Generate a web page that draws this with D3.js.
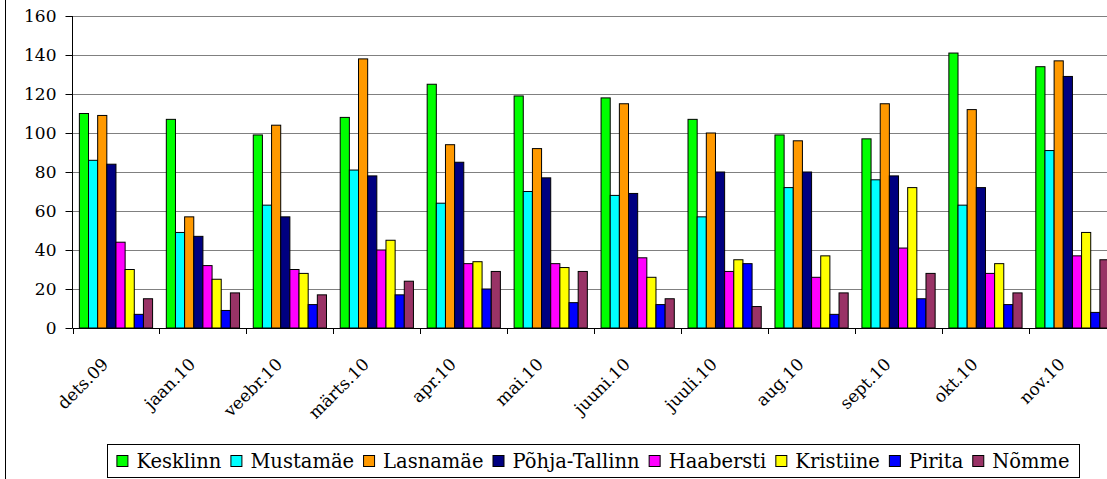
<!DOCTYPE html>
<html>
<head>
<meta charset="utf-8">
<script src="https://cdn.jsdelivr.net/npm/d3@7"></script>
<style>
  body { margin: 0; background: #fff; }
  svg { display: block; }
  text { font-family: "DejaVu Serif", serif; fill: #000; }
</style>
</head>
<body>
<div id="chart"></div>
<script>
var months = ["dets.09", "jaan.10", "veebr.10", "märts.10", "apr.10", "mai.10",
              "juuni.10", "juuli.10", "aug.10", "sept.10", "okt.10", "nov.10"];

var districts = ["Kesklinn", "Mustamäe", "Lasnamäe", "Põhja-Tallinn",
                 "Haabersti", "Kristiine", "Pirita", "Nõmme"];

var colors = ["#00ff00", "#00ffff", "#ff9900", "#000080",
              "#ff00ff", "#ffff00", "#0000ff", "#993366"];

// one array per district, values per month
var kesklinn     = [110, 107, 99, 108, 125, 119, 118, 107, 99, 97, 141, 134];
var mustamae     = [86, 49, 63, 81, 64, 70, 68, 57, 72, 76, 63, 91];
var lasnamae     = [109, 57, 104, 138, 94, 92, 115, 100, 96, 115, 112, 137];
var pohjaTallinn = [84, 47, 57, 78, 85, 77, 69, 80, 80, 78, 72, 129];
var haabersti    = [44, 32, 30, 40, 33, 33, 36, 29, 26, 41, 28, 37];
var kristiine    = [30, 25, 28, 45, 34, 31, 26, 35, 37, 72, 33, 49];
var pirita       = [7, 9, 12, 17, 20, 13, 12, 33, 7, 15, 12, 8];
var nomme        = [15, 18, 17, 24, 29, 29, 15, 11, 18, 28, 18, 35];

var series = [kesklinn, mustamae, lasnamae, pohjaTallinn, haabersti, kristiine, pirita, nomme];

var yTicks = [0, 20, 40, 60, 80, 100, 120, 140, 160];

var W = 1107, H = 479;
var plotLeft = 72.5, plotTop = 16, plotBottom = 328;
var catW = 86.95;

var svg = d3.select("#chart").append("svg")
    .attr("width", W)
    .attr("height", H);

var x0 = d3.scaleBand()
    .domain(months)
    .range([plotLeft, plotLeft + catW * months.length]);

// excel gap width 150% -> 0.75 bar on each side
var x1 = d3.scaleBand()
    .domain(d3.range(districts.length))
    .range([0, x0.bandwidth()])
    .paddingOuter(0.75);

var y = d3.scaleLinear()
    .domain([0, 160])
    .range([plotBottom, plotTop]);

// outer frame (left edge only visible)
svg.append("line")
    .attr("x1", 5.5).attr("x2", 5.5)
    .attr("y1", 0).attr("y2", H)
    .attr("stroke", "#000");

// gridlines
svg.append("g")
  .selectAll("line")
  .data(yTicks.slice(1))
  .enter().append("line")
    .attr("x1", plotLeft).attr("x2", W)
    .attr("y1", function(d) { return Math.round(y(d)) + 0.5; })
    .attr("y2", function(d) { return Math.round(y(d)) + 0.5; })
    .attr("stroke", "#808080");

// bars
var groups = svg.append("g")
  .selectAll("g")
  .data(months)
  .enter().append("g")
    .attr("transform", function(d) { return "translate(" + x0(d) + ",0)"; });

groups.selectAll("rect")
  .data(function(m, i) { return series.map(function(s, k) { return {k: k, v: s[i]}; }); })
  .enter().append("rect")
    .attr("x", function(d) { return x1(d.k); })
    .attr("width", x1.bandwidth())
    .attr("y", function(d) { return y(d.v); })
    .attr("height", function(d) { return plotBottom - y(d.v); })
    .attr("fill", function(d) { return colors[d.k]; })
    .attr("stroke", "#000")
    .attr("stroke-width", 1);

// y axis
var yAxis = d3.axisLeft(y)
    .tickValues(yTicks)
    .tickSize(7)
    .tickPadding(9);

var gy = svg.append("g")
    .attr("transform", "translate(" + plotLeft + ",0)")
    .call(yAxis);
gy.select(".domain").attr("stroke", "#000").attr("d", "M0," + plotTop + "V" + plotBottom);
gy.selectAll(".tick line").attr("stroke", "#000");
gy.selectAll("text")
    .style("font-family", "DejaVu Serif")
    .style("font-size", "17px");

// x axis
svg.append("line")
    .attr("x1", plotLeft).attr("x2", W)
    .attr("y1", plotBottom + 0.5).attr("y2", plotBottom + 0.5)
    .attr("stroke", "#000");

svg.append("g")
  .selectAll("line")
  .data(d3.range(months.length + 1))
  .enter().append("line")
    .attr("x1", function(i) { return Math.round(plotLeft + i * catW) + 0.5; })
    .attr("x2", function(i) { return Math.round(plotLeft + i * catW) + 0.5; })
    .attr("y1", plotBottom).attr("y2", plotBottom + 6)
    .attr("stroke", "#000");

svg.append("g")
  .selectAll("text")
  .data(months)
  .enter().append("text")
    .attr("transform", function(d) {
      return "translate(" + (x0(d) + x0.bandwidth() / 2 - 15) + "," + (plotBottom + 29) + ") rotate(-45)";
    })
    .attr("text-anchor", "end")
    .attr("dy", "0.7em")
    .style("font-size", "17px")
    .text(function(d) { return d; });

// legend
svg.append("rect")
    .attr("x", 107.5).attr("y", 444.5)
    .attr("width", 972).attr("height", 33)
    .attr("fill", "#fff")
    .attr("stroke", "#000");

var leg = svg.append("g");
var cx = 0;
districts.forEach(function(name, k) {
  leg.append("rect")
      .attr("x", cx + 0.5).attr("y", 455.5)
      .attr("width", 11).attr("height", 11)
      .attr("fill", colors[k])
      .attr("stroke", "#000");
  var t = leg.append("text")
      .attr("x", cx + 20)
      .attr("y", 468)
      .style("font-size", "19.5px")
      .text(name);
  cx += 20 + t.node().getComputedTextLength() + 9;
});
cx -= 9;
leg.attr("transform", "translate(" + (593 - cx / 2) + ",0)");
</script>
</body>
</html>
